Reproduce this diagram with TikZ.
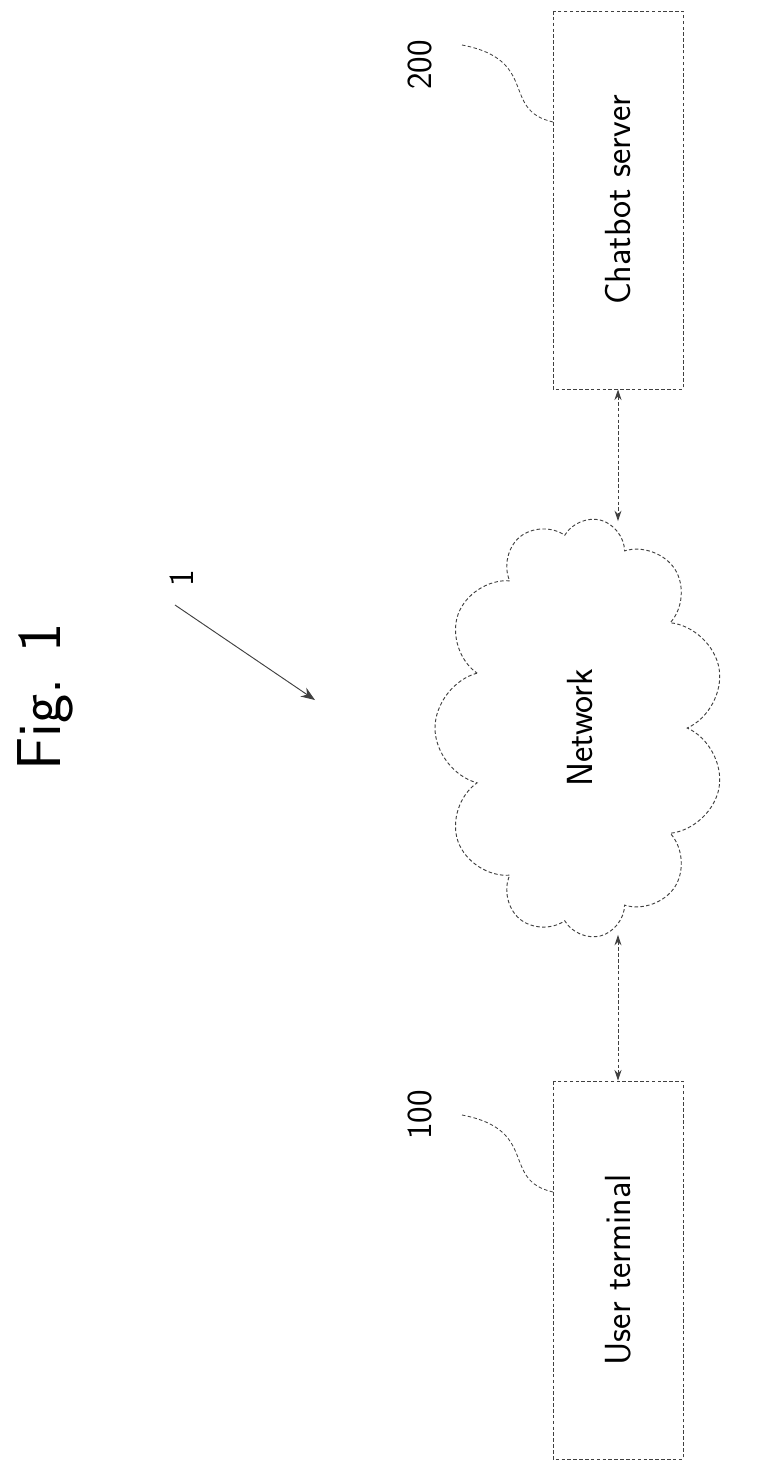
\documentclass[tikz,border=0pt]{standalone}
\usetikzlibrary{shapes.symbols,arrows.meta}
\begin{document}
\begin{tikzpicture}[x=0.03cm,y=-0.03cm,
  ln/.style={draw=black!75,line width=0.8pt,densely dashed},
  box/.style={ln,rectangle,rotate=90,minimum width=11.34cm,minimum height=3.9cm,inner sep=0pt,font=\fontsize{31}{33}\sffamily},
  lbl/.style={rotate=90,font=\fontsize{30}{32}\sffamily},
  lead/.style={draw=black!75,line width=0.7pt,densely dashed},
  conn/.style={ln,{Stealth[length=9pt,width=6pt]}-{Stealth[length=9pt,width=6pt]}}]
\useasboundingbox (0,0) rectangle (767,1468);
\node[rotate=90,font=\fontsize{53}{55}\sffamily] (fig) at (45,697) {Fig. 1};
\node[lbl] (one) at (182,578) {1};
\coordinate (a1) at (175,605);
\coordinate (a2) at (315,700);
\draw[draw=black!75,line width=0.8pt,-{Stealth[length=12pt]}] (a1) -- (a2);
\node[ln,cloud,cloud puffs=11,aspect=1.45,rotate=90,minimum width=12.6cm,minimum height=8.7cm,inner sep=0pt,font=\fontsize{31}{33}\sffamily] (net) at (580,728) {Network};
\node[box] (cs) at (618,200) {Chatbot server};
\node[box] (ut) at (618,1270) {User terminal};
\node[lbl] (n200) at (420,65) {200};
\node[lbl] (n100) at (420,1115) {100};
\coordinate (c200) at (553,122);
\coordinate (c100) at (553,1192);
\draw[lead] (462,45) .. controls (540,60) and (500,110) .. (c200);
\draw[lead] (462,1115) .. controls (540,1130) and (500,1180) .. (c100);
\draw[conn] (cs.west) -- (cs.west |- net.east);
\draw[conn] (ut.east |- net.west) -- (ut.east);
\end{tikzpicture}
\end{document}
